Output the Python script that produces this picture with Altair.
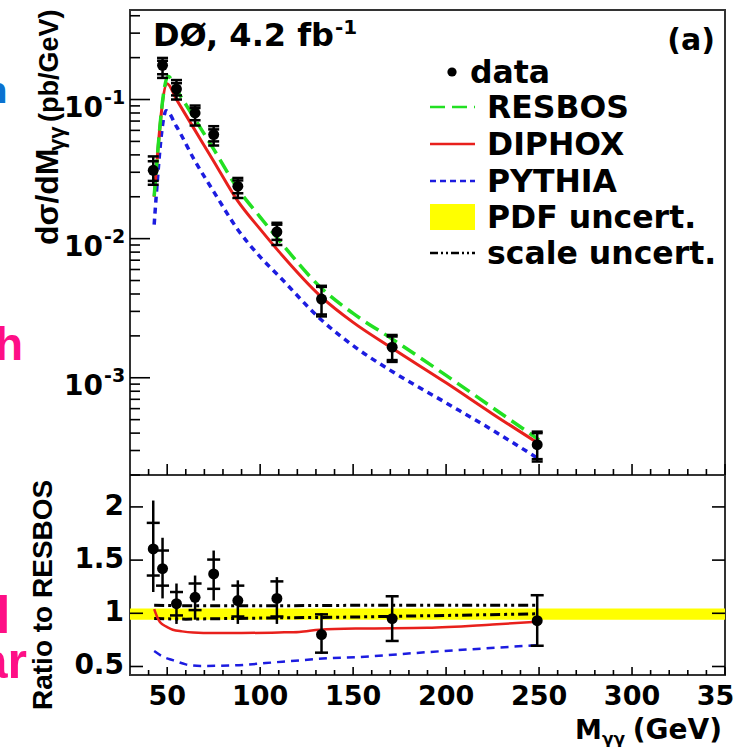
import altair as alt
import pandas as pd

# ---------------- data ----------------
mass = [42.5, 47.5, 55, 65, 75, 88, 109, 133, 171, 249]
xsec = [0.031, 0.176, 0.119, 0.080, 0.056, 0.0238, 0.0112, 0.00368, 0.00166, 0.00033]
xsec_tot_hi = [0.039, 0.199, 0.138, 0.0905, 0.0643, 0.0273, 0.0130, 0.00458, 0.00203, 0.00041]
xsec_tot_lo = [0.0244, 0.143, 0.100, 0.065, 0.0467, 0.0196, 0.0090, 0.00276, 0.00130, 0.00025]
xsec_stat_hi = [0.036, 0.190, 0.131, 0.087, 0.061, 0.0262, 0.0126, 0.00450, 0.00198, 0.00040]
xsec_stat_lo = [0.026, 0.152, 0.107, 0.071, 0.050, 0.0212, 0.0098, 0.00285, 0.00134, 0.00026]

ratio = [1.605, 1.42, 1.09, 1.15, 1.37, 1.12, 1.14, 0.80, 0.95, 0.93]
ratio_tot_hi = [2.06, 1.71, 1.28, 1.355, 1.59, 1.31, 1.34, 1.00, 1.17, 1.18]
ratio_tot_lo = [1.20, 1.14, 0.90, 0.94, 1.12, 0.90, 0.90, 0.62, 0.73, 0.685]
ratio_stat_hi = [1.85, 1.59, 1.20, 1.28, 1.505, 1.26, 1.30, 0.99, 1.16, 1.17]
ratio_stat_lo = [1.355, 1.26, 0.98, 1.03, 1.23, 0.97, 0.97, 0.63, 0.74, 0.695]

resbos_x = [43, 50.5, 55, 65, 75, 88, 100, 110, 133, 150, 171, 200, 225, 250]
resbos_y = [0.0201, 0.147, 0.118, 0.072, 0.044, 0.0228, 0.0143, 0.0098, 0.0044, 0.0029, 0.00190, 0.00104, 0.00061, 0.000358]
diphox_x = [43, 50, 55, 65, 75, 88, 100, 110, 133, 150, 171, 200, 225, 250]
diphox_y = [0.0200, 0.130, 0.100, 0.060, 0.036, 0.0186, 0.0117, 0.0081, 0.0038, 0.0025, 0.00163, 0.00092, 0.00055, 0.000335]
pythia_x = [43, 49.5, 55, 65, 75, 88, 100, 110, 133, 150, 171, 200, 225, 250]
pythia_y = [0.0126, 0.083, 0.064, 0.036, 0.0218, 0.0116, 0.0074, 0.0054, 0.0026, 0.0017, 0.00111, 0.00066, 0.00042, 0.00026]

diphox_ratio_x = [43, 44.5, 46, 48, 50, 53, 58, 64, 75, 90, 110, 121, 132, 154, 190, 225, 249]
diphox_ratio_y = [1.04, 0.97, 0.92, 0.89, 0.87, 0.845, 0.83, 0.82, 0.815, 0.815, 0.82, 0.825, 0.845, 0.857, 0.863, 0.894, 0.92]
pythia_ratio_x = [43, 48, 53, 60, 68, 85, 112, 139, 154, 190, 249]
pythia_ratio_y = [0.645, 0.59, 0.56, 0.52, 0.505, 0.51, 0.545, 0.58, 0.59, 0.635, 0.70]

scale_x = [43, 60, 100, 150, 200, 249]
scale_hi = [1.075, 1.07, 1.07, 1.075, 1.075, 1.075]
scale_lo = [0.95, 0.945, 0.955, 0.965, 0.98, 0.995]

pdf_band_x = [30, 350]
pdf_band_lo = [0.94, 0.94]
pdf_band_hi = [1.045, 1.045]

x_tick_labels = [50, 100, 150, 200, 250, 300, 350]
ratio_tick_labels = [0.5, 1.0, 1.5, 2.0]
ratio_tick_text = ["0.5", "1", "1.5", "2"]
log_decades = [0.001, 0.01, 0.1]
log_exp_text = ["-3", "-2", "-1"]

# ---------------- scales ----------------
W, H_TOP, H = 595, 465, 665
xs = alt.Scale(domain=[30, 350], nice=False, zero=False)
ytop = alt.Scale(type="log", domain=[2e-4, 0.44], range=[H_TOP, 0], nice=False)
yrat = alt.Scale(domain=[0.42, 2.3], range=[H, H_TOP], nice=False, zero=False)

FONT = "DejaVu Sans"
RFONT = "Liberation Sans"
GREEN, RED, BLUE, YELLOW = "#22e022", "#e8201c", "#1c1ce0", "#ffff00"

def X(field="x"):
    return alt.X(f"{field}:Q", scale=xs, axis=None)

def YT(field="y"):
    return alt.Y(f"{field}:Q", scale=ytop, axis=None)

def YR(field="y"):
    return alt.Y(f"{field}:Q", scale=yrat, axis=None)

one = pd.DataFrame({"a": [0]})

def txt(s, x, y, size, align="left", angle=0, font=FONT, color="black", baseline="alphabetic"):
    return alt.Chart(one).mark_text(
        text=s, align=align, baseline=baseline, fontSize=size, font=font,
        fontWeight="bold", angle=angle, color=color
    ).encode(x=alt.value(x), y=alt.value(y))

layers = []

# ---------------- ratio panel ----------------
band = pd.DataFrame({"x": pdf_band_x, "lo": pdf_band_lo, "hi": pdf_band_hi})
layers.append(alt.Chart(band).mark_area(color=YELLOW, opacity=1).encode(
    x=X(), y=YR("lo"), y2=alt.Y2("hi")))

dash_dot = [10, 4, 3, 4, 3, 4]
for arr in (scale_hi, scale_lo):
    d = pd.DataFrame({"x": scale_x, "y": arr})
    layers.append(alt.Chart(d).mark_line(color="black", strokeWidth=3, strokeDash=dash_dot).encode(
        x=X(), y=YR()))

d = pd.DataFrame({"x": diphox_ratio_x, "y": diphox_ratio_y})
layers.append(alt.Chart(d).mark_line(color=RED, strokeWidth=2.5, interpolate="monotone").encode(x=X(), y=YR()))
d = pd.DataFrame({"x": pythia_ratio_x, "y": pythia_ratio_y})
layers.append(alt.Chart(d).mark_line(color=BLUE, strokeWidth=2.5, strokeDash=[8, 6], interpolate="monotone").encode(x=X(), y=YR()))

TICKMARK = dict(color="black", orient="horizontal", thickness=2.5, opacity=1)
rdf = pd.DataFrame({"x": mass, "y": ratio, "hi": ratio_tot_hi, "lo": ratio_tot_lo,
                    "shi": ratio_stat_hi, "slo": ratio_stat_lo})
layers.append(alt.Chart(rdf).mark_rule(color="black", strokeWidth=2.5).encode(x=X(), y=YR("lo"), y2=alt.Y2("hi")))
layers.append(alt.Chart(rdf).mark_tick(size=13, **TICKMARK).encode(x=X(), y=YR("shi")))
layers.append(alt.Chart(rdf).mark_tick(size=13, **TICKMARK).encode(x=X(), y=YR("slo")))
layers.append(alt.Chart(rdf).mark_point(filled=True, color="black", size=120, opacity=1).encode(x=X(), y=YR()))

# ---------------- top panel ----------------
for xv, yv, col, dash, sw in (
    (pythia_x, pythia_y, BLUE, [6, 5], 3.5),
    (diphox_x, diphox_y, RED, None, 3),
    (resbos_x, resbos_y, GREEN, [15, 7], 3.5),
):
    d = pd.DataFrame({"x": xv, "y": yv})
    kw = dict(color=col, strokeWidth=sw, interpolate="monotone")
    if dash:
        kw["strokeDash"] = dash
    layers.append(alt.Chart(d).mark_line(**kw).encode(x=X(), y=YT()))

tdf = pd.DataFrame({"x": mass, "y": xsec, "hi": xsec_tot_hi, "lo": xsec_tot_lo,
                    "shi": xsec_stat_hi, "slo": xsec_stat_lo})
layers.append(alt.Chart(tdf).mark_rule(color="black", strokeWidth=2.5).encode(x=X(), y=YT("lo"), y2=alt.Y2("hi")))
for f in ("hi", "lo", "shi", "slo"):
    layers.append(alt.Chart(tdf).mark_tick(size=11, **TICKMARK).encode(x=X(), y=YT(f)))
layers.append(alt.Chart(tdf).mark_point(filled=True, color="black", size=120, opacity=1).encode(x=X(), y=YT()))

# ---------------- frame pieces & ticks ----------------
layers.append(alt.Chart(one).mark_rule(color="#333", strokeWidth=2).encode(
    x=alt.value(0), x2=alt.value(W), y=alt.value(H_TOP)))

x_major = pd.DataFrame({"v": list(range(50, 351, 50))})
x_minor = pd.DataFrame({"v": [v for v in range(40, 350, 10) if v % 50 != 0]})
TK = dict(color="black", strokeWidth=1.6)
layers.append(alt.Chart(x_major).mark_rule(**TK).encode(x=X("v"), y=alt.value(H_TOP), y2=alt.value(H_TOP - 11)))
layers.append(alt.Chart(x_minor).mark_rule(**TK).encode(x=X("v"), y=alt.value(H_TOP), y2=alt.value(H_TOP - 6)))
layers.append(alt.Chart(x_major).mark_rule(**TK).encode(x=X("v"), y=alt.value(H), y2=alt.value(H - 8)))
layers.append(alt.Chart(x_minor).mark_rule(**TK).encode(x=X("v"), y=alt.value(H), y2=alt.value(H - 5)))

y_major = pd.DataFrame({"v": log_decades, "t": log_exp_text})
y_minor = pd.DataFrame({"v": [m * d for d in (1e-4, 1e-3, 1e-2, 1e-1) for m in range(2, 10)
                              if 2e-4 <= m * d <= 0.44]})
layers.append(alt.Chart(y_major).mark_rule(**TK).encode(y=YT("v"), x=alt.value(0), x2=alt.value(20)))
layers.append(alt.Chart(y_minor).mark_rule(**TK).encode(y=YT("v"), x=alt.value(0), x2=alt.value(10)))

r_major = pd.DataFrame({"v": ratio_tick_labels, "t": ratio_tick_text})
layers.append(alt.Chart(r_major).mark_rule(**TK).encode(y=YR("v"), x=alt.value(0), x2=alt.value(13)))
layers.append(alt.Chart(r_major).mark_rule(**TK).encode(y=YR("v"), x=alt.value(W), x2=alt.value(W - 13)))

# ---------------- tick labels ----------------
layers.append(alt.Chart(y_major).mark_text(text="10", align="right", baseline="alphabetic", dy=17,
    fontSize=28, font=FONT, fontWeight="bold").encode(y=YT("v"), x=alt.value(-27)))
layers.append(alt.Chart(y_major).mark_text(align="left", baseline="alphabetic", dy=4,
    fontSize=19, font=FONT, fontWeight="bold").encode(y=YT("v"), x=alt.value(-26), text="t:N"))
layers.append(alt.Chart(r_major).mark_text(align="right", baseline="middle",
    fontSize=28, font=FONT, fontWeight="bold").encode(y=YR("v"), x=alt.value(-6), text="t:N"))
xl = pd.DataFrame({"v": x_tick_labels, "t": [str(v) for v in x_tick_labels]})
layers.append(alt.Chart(xl).mark_text(align="center", baseline="alphabetic",
    fontSize=27, font=FONT, fontWeight="bold").encode(x=X("v"), y=alt.value(695), text="t:N"))

# ---------------- titles & annotations ----------------
layers += [
    txt("DØ, 4.2 fb", 23, 36, 32),
    txt("-1", 205, 24, 20),
    txt("(a)", 585, 40, 30, align="right"),
    # axis titles
    txt("M", 445, 729, 27),
    txt("γγ", 472, 735, 17),
    txt("(GeV)", 592, 729, 28, align="right"),
    txt("dσ/dM", -72, 235, 32, angle=270, font=RFONT),
    txt("γγ", -66, 141, 22, angle=270, font=RFONT),
    txt("(pb/GeV)", -72, 112, 27, angle=270, font=RFONT),
    txt("Ratio to RESBOS", -78, 700, 28, angle=270, font=RFONT),
    # slide fragments at left edge
    txt("n", -122, 93, 36, align="right", color="#0b72d0"),
    txt("h", -135, 350, 46, color="#fe0f86", font=RFONT),
    txt("l", -134, 623, 52, color="#fe0f86", font=RFONT),
    txt("ar", -103, 668, 50, align="right", color="#fe0f86", font=RFONT),
    # legend
    txt("data", 340, 73, 31.5),
    txt("RESBOS", 357, 108, 31.5),
    txt("DIPHOX", 357, 145, 31.5),
    txt("PYTHIA", 357, 182, 31.5),
    txt("PDF uncert.", 357, 218, 31.5),
    txt("scale uncert.", 357, 254, 31.5),
]
layers.append(alt.Chart(one).mark_point(filled=True, color="black", size=85, opacity=1).encode(
    x=alt.value(322), y=alt.value(62)))
layers.append(alt.Chart(one).mark_rule(color=GREEN, strokeWidth=2.5, strokeDash=[15, 7]).encode(
    x=alt.value(300), x2=alt.value(345), y=alt.value(97)))
layers.append(alt.Chart(one).mark_rule(color=RED, strokeWidth=2.5).encode(
    x=alt.value(300), x2=alt.value(345), y=alt.value(134)))
layers.append(alt.Chart(one).mark_rule(color=BLUE, strokeWidth=2.5, strokeDash=[6, 4]).encode(
    x=alt.value(300), x2=alt.value(345), y=alt.value(171)))
layers.append(alt.Chart(one).mark_rect(color=YELLOW).encode(
    x=alt.value(300), x2=alt.value(345), y=alt.value(194), y2=alt.value(220)))
layers.append(alt.Chart(one).mark_rule(color="black", strokeWidth=2.5, strokeDash=[8, 3, 2, 3, 2, 3]).encode(
    x=alt.value(300), x2=alt.value(345), y=alt.value(243)))

chart = alt.layer(*layers).resolve_scale(y="independent").properties(
    width=W, height=H,
    autosize=alt.AutoSizeParams(type="none"),
    padding={"left": 130, "top": 10, "right": 10, "bottom": 72},
    background="white",
).configure_view(stroke="#333", strokeWidth=2)

chart.save("out.html", embed_options={"renderer": "svg", "actions": False})
